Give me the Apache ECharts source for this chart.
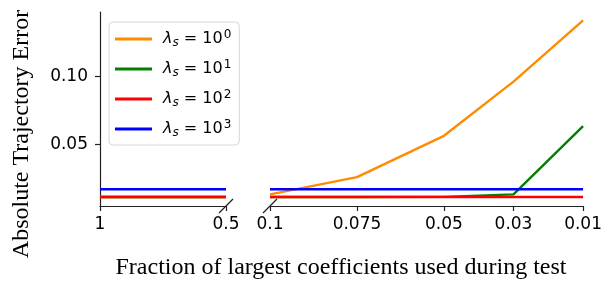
<!DOCTYPE html>
<html>
<head>
<meta charset="utf-8">
<script src="https://cdn.jsdelivr.net/npm/echarts@6/dist/echarts.min.js"></script>
<style>
  html, body { margin: 0; padding: 0; background: #fff; }
  #chart { width: 605px; height: 284px; }
</style>
</head>
<body>
<div id="chart"></div>
<script>
// x values of each half of the broken axis
const leftX = [1, 0.5];
const rightX = [0.1, 0.075, 0.05, 0.03, 0.01];
const leftTicks = [1, 0.5];
const rightTicks = [0.1, 0.075, 0.05, 0.03, 0.01];
const yTicks = [0.05, 0.10];

// lambda_s exponents, one per series
const lambdaExp = ['0', '1', '2', '3'];
const colors = ['#ff8c00', '#008000', '#ff0000', '#0000ff'];

// ATE values, left part (1 .. 0.5) and right part (0.1 .. 0.01)
const orangeLeft = [0.0113, 0.0113];
const greenLeft = [0.0113, 0.0113];
const redLeft = [0.0113, 0.0113];
const blueLeft = [0.017, 0.017];
const orangeRight = [0.0133, 0.026, 0.0564, 0.0963, 0.1414];
const greenRight = [0.0113, 0.0113, 0.0114, 0.0133, 0.0635];
const redRight = [0.0113, 0.0113, 0.0113, 0.0113, 0.0113];
const blueRight = [0.017, 0.017, 0.017, 0.017, 0.017];

const yMin = 0.0047, yMax = 0.1476;

const leftVals = [orangeLeft, greenLeft, redLeft, blueLeft];
const rightVals = [orangeRight, greenRight, redRight, blueRight];
const names = lambdaExp.map(e => 'lambda_s=10^' + e);

const tickFont = { fontFamily: 'DejaVu Sans', fontSize: 17, color: '#000' };
const axisLineStyle = { color: '#222', width: 1.2 };

function pairs(xs, ys) {
	return xs.map((x, i) => [x, ys[i]]);
}

let series = [];
names.forEach((n, i) => {
	series.push({
		name: n, type: 'line', xAxisIndex: 0, yAxisIndex: 0,
		data: pairs(leftX, leftVals[i]), symbol: 'none',
		lineStyle: { color: colors[i], width: 2.4 }, itemStyle: { color: colors[i] }
	});
});
names.forEach((n, i) => {
	series.push({
		name: n, type: 'line', xAxisIndex: 1, yAxisIndex: 1,
		data: pairs(rightX, rightVals[i]), symbol: 'none',
		lineStyle: { color: colors[i], width: 2.4 }, itemStyle: { color: colors[i] }
	});
});

const chart = echarts.init(document.getElementById('chart'));
const option = {
	animation: false,
	grid: [
		{ left: 100, right: 379, top: 12, bottom: 78 },
		{ left: 270, right: 20, top: 12, bottom: 78 }
	],
	xAxis: [{
		type: 'value', gridIndex: 0, inverse: true, min: 0.5, max: 1,
		axisLine: { lineStyle: axisLineStyle },
		axisTick: { show: true, length: 5, customValues: leftTicks, lineStyle: axisLineStyle },
		axisLabel: { customValues: leftTicks, margin: 10, ...tickFont },
		splitLine: { show: false }
	}, {
		type: 'value', gridIndex: 1, inverse: true, min: 0.01, max: 0.1,
		axisLine: { lineStyle: axisLineStyle },
		axisTick: { show: true, length: 5, customValues: rightTicks, lineStyle: axisLineStyle },
		axisLabel: { customValues: rightTicks, margin: 10, ...tickFont },
		splitLine: { show: false }
	}],
	yAxis: [{
		type: 'value', gridIndex: 0, min: yMin, max: yMax,
		axisLine: { show: true, lineStyle: axisLineStyle },
		axisTick: { show: true, length: 5, customValues: yTicks, lineStyle: axisLineStyle },
		axisLabel: { customValues: yTicks, margin: 12, formatter: v => v.toFixed(2), ...tickFont },
		splitLine: { show: false }
	}, {
		type: 'value', gridIndex: 1, min: yMin, max: yMax,
		axisLine: { show: false }, axisTick: { show: false },
		axisLabel: { show: false }, splitLine: { show: false }
	}],
	legend: {
		orient: 'vertical', left: 109, top: 22,
		data: names, icon: 'rect',
		backgroundColor: '#fff', borderColor: '#d6d6d6', borderWidth: 1, borderRadius: 4,
		padding: [7, 8, 6, 6], itemGap: 10, itemWidth: 37, itemHeight: 3,
		formatter: function (name) {
			const e = name.split('^')[1];
			return '{l|λ}{s|s}{n| = 10}{p|' + e + '}';
		},
		textStyle: {
			color: '#000', fontFamily: 'DejaVu Sans', fontSize: 16, lineHeight: 20,
			rich: {
				l: { fontFamily: 'DejaVu Sans', fontStyle: 'italic', fontSize: 16, padding: [0, 0, 0, 6] },
				s: { fontFamily: 'DejaVu Sans', fontStyle: 'italic', fontSize: 12, padding: [7, 0, 0, 0] },
				n: { fontFamily: 'DejaVu Sans', fontSize: 16 },
				p: { fontFamily: 'DejaVu Sans', fontSize: 12, padding: [0, 0, 8, 1] }
			}
		}
	},
	graphic: [{
		type: 'text', x: 22, y: 134, rotation: Math.PI / 2,
		style: {
			text: 'Absolute Trajectory Error', fontFamily: 'Liberation Serif', fontSize: 24,
			fill: '#000', align: 'center', verticalAlign: 'middle'
		}
	}, {
		type: 'text', x: 341, y: 268,
		style: {
			text: 'Fraction of largest coefficients used during test', fontFamily: 'Liberation Serif', fontSize: 24,
			fill: '#000', align: 'center', verticalAlign: 'middle'
		}
	}],
	series: series
};
chart.setOption(option);

// diagonal break marks at the inner ends of the two x axes
const p1 = chart.convertToPixel({ xAxisIndex: 0, yAxisIndex: 0 }, [0.5, yMin]);
const p2 = chart.convertToPixel({ xAxisIndex: 1, yAxisIndex: 1 }, [0.1, yMin]);
const brk = p => ({
	type: 'line',
	shape: { x1: p[0] - 7, y1: p[1] + 7, x2: p[0] + 7, y2: p[1] - 7 },
	style: { stroke: '#222', lineWidth: 1.2 }
});
option.graphic.push(brk(p1), brk(p2));
chart.setOption({ graphic: option.graphic });
</script>
</body>
</html>
